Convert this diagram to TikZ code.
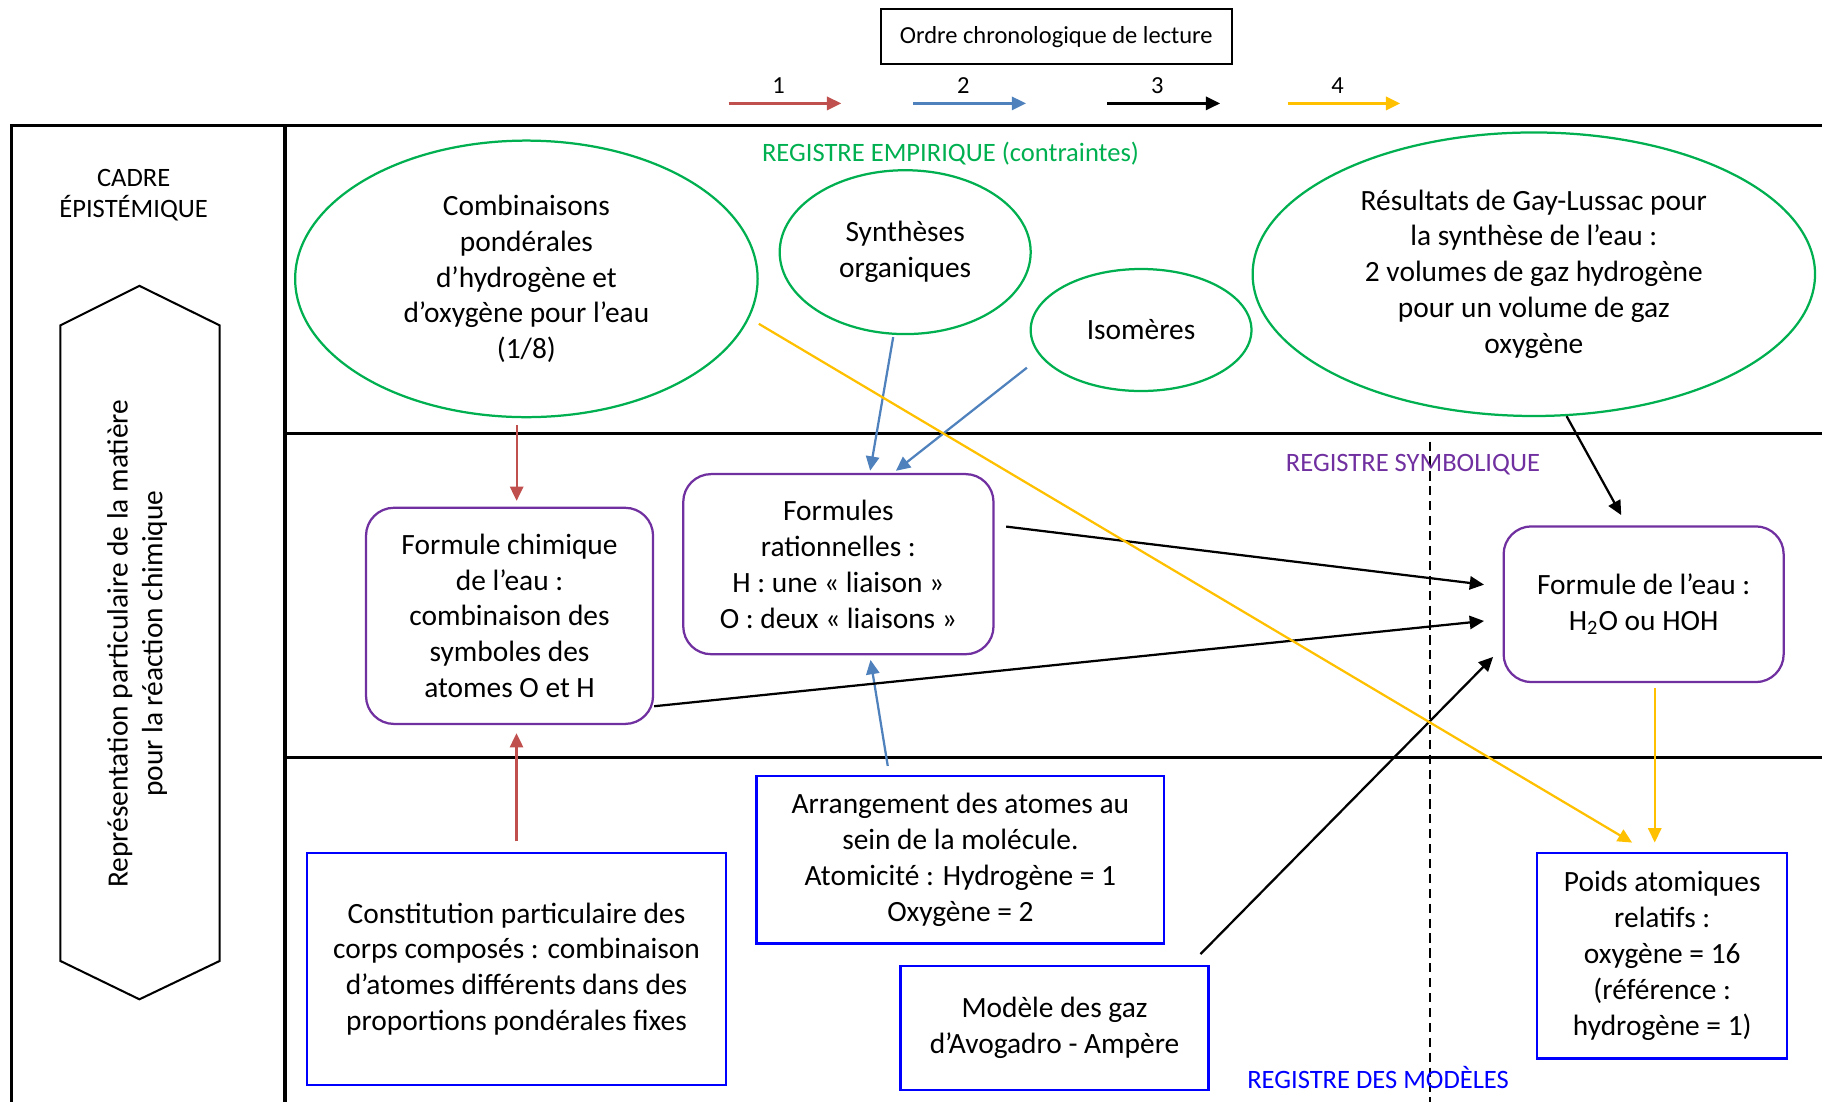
\documentclass[tikz,border=0pt]{standalone}
\usepackage{fontspec}
\setmainfont{Carlito}
\usepackage{xcolor}
\usetikzlibrary{arrows.meta, shapes.geometric, calc}

\definecolor{empgreen}{HTML}{00B050}
\definecolor{sympurple}{HTML}{7030A0}
\definecolor{modblue}{HTML}{0000FF}
\definecolor{arrred}{HTML}{C0504D}
\definecolor{arrblue}{HTML}{4F81BD}
\definecolor{arryellow}{HTML}{FFC000}

\begin{document}
\begin{tikzpicture}[x=0.2mm, y=-0.2mm,
            txt/.style={font=\fontsize{14.4}{17.6}\selectfont, align=center},
            empbox/.style={txt, draw=empgreen, line width=1.1pt, ellipse, inner sep=0pt},
            symbox/.style={txt, draw=sympurple, line width=1.1pt, rectangle, rounded corners=4.8mm, inner sep=0pt},
            modbox/.style={txt, draw=modblue, line width=1.1pt, rectangle, inner sep=0pt},
            reglbl/.style={font=\fontsize{13}{15.5}\selectfont, align=center},
            leglbl/.style={font=\fontsize{12}{14}\selectfont},
            link/.style={-{Triangle[length=7pt, width=6.5pt]}, line width=1.1pt},
            legarrow/.style={-{Triangle[length=7pt, width=6.5pt]}, line width=1.3pt},
            frame/.style={line width=1.6pt}
        ]
        \useasboundingbox (0,0) rectangle (1568,948);

        % --- Legend ---
        \node[draw, line width=0.9pt, minimum width=60.4mm, minimum height=9.4mm, font=\fontsize{12}{14}\selectfont] (order) at (909,31.5) {Ordre chronologique de lecture};
        \foreach \n/\xa/\col in {1/627/arrred, 2/786/arrblue, 3/953/black, 4/1108/arryellow} {
            \coordinate (leg\n a) at (\xa,89);
            \coordinate (leg\n b) at (\xa+97,89);
            \node[leglbl] (num\n) at (\xa+43,74) {\n};
            \draw[legarrow, draw=\col] (leg\n a) -- (leg\n b);
        }

        % --- Frame ---
        \draw[frame] (10,948) -- (10,108) -- (1568,108);
        \draw[line width=1.9pt] (245,108) -- (245,948);
        \draw[line width=1.2pt] (245,373) -- (1568,373);
        \draw[line width=1.2pt] (245,652) -- (1568,652);
        \draw[line width=1pt, dash pattern=on 4.5pt off 2.8pt] (1231,380) -- (1231,948);

        % --- Epistemic frame ---
        \node[reglbl] (cadre) at (115,168) {CADRE\\ÉPISTÉMIQUE};
        \draw[line width=1pt] (120,246) -- (189,280) -- (189,827) -- (120,860) -- (52,827) -- (52,280) -- cycle;
        \node[rotate=90, align=center, font=\fontsize{14.4}{17}\selectfont] (repr) at (118,554) {Représentation particulaire de la matière\\pour la réaction chimique};

        % --- Register labels ---
        \node[reglbl, text=empgreen] (emplbl) at (818,132) {REGISTRE EMPIRIQUE (contraintes)};
        \node[reglbl, text=sympurple] (symlbl) at (1216,400) {REGISTRE SYMBOLIQUE};
        \node[reglbl, text=modblue] (modlbl) at (1186,927) {REGISTRE DES MODÈLES};

        % --- Empirical register ---
        \node[empbox, minimum width=79.6mm, minimum height=47.6mm] (e1) at (453,240) {Combinaisons\\pondérales\\d’hydrogène et\\d’oxygène pour l’eau\\(1/8)};
        \node[empbox, minimum width=43.2mm, minimum height=28.2mm] (e2) at (779,217) {Synthèses\\organiques};
        \node[empbox, minimum width=38mm, minimum height=21mm] (e3) at (982,284) {Isomères};
        \node[empbox, minimum width=96.8mm, minimum height=48.8mm] (e4) at (1320,236) {Résultats de Gay-Lussac pour\\la synthèse de l’eau :\\2 volumes de gaz hydrogène\\pour un volume de gaz\\oxygène};

        % --- Symbolic register ---
        \node[symbox, minimum width=49.4mm, minimum height=37.2mm] (r1) at (438.5,530) {Formule chimique\\de l’eau :\\combinaison des\\symboles des\\atomes O et H};
        \node[symbox, minimum width=53.4mm, minimum height=31mm] (r2) at (721.5,485.5) {Formules\\rationnelles :\\H : une « liaison »\\O : deux « liaisons »};
        \node[symbox, minimum width=48.2mm, minimum height=26.8mm] (r3) at (1414.5,520) {Formule de l’eau :\\H\textsubscript{2}O ou HOH};

        % --- Model register ---
        \node[modbox, minimum width=72.2mm, minimum height=40mm] (b1) at (444.5,834) {Constitution particulaire des\\corps composés : combinaison\\d’atomes différents dans des\\proportions pondérales fixes};
        \node[modbox, minimum width=70.2mm, minimum height=28.8mm] (b2) at (826.5,740) {Arrangement des atomes au\\sein de la molécule.\\Atomicité : Hydrogène = 1\\Oxygène = 2};
        \node[modbox, minimum width=53mm, minimum height=21.4mm] (b3) at (907.5,884.5) {Modèle des gaz\\d’Avogadro - Ampère};
        \node[modbox, minimum width=43mm, minimum height=35.4mm] (b4) at (1430.5,822.5) {Poids atomiques\\relatifs :\\oxygène = 16\\(référence :\\hydrogène = 1)};

        % --- 1 ---
        \draw[link, arrred, shorten <=1.2mm, shorten >=1mm] (e1.266) -- (e1.266 |- r1.north);
        \draw[link, arrred, shorten <=1.8mm, shorten >=1.4mm] (b1.north) -- (b1.north |- r1.south);

        % --- 2 ---
        \draw[link, arrblue, shorten <=0.4mm, shorten >=0.4mm] (e2.262) -- (r2.71);
        \draw[link, arrblue, shorten <=3mm, shorten >=0.6mm] (e3.195) -- (r2.59);
        \draw[link, arrblue, shorten <=1.6mm, shorten >=0.8mm] (b2.130) -- (r2.289);

        % --- 3 ---
        \draw[link, black, shorten >=2mm] (e4.283) -- (r3.102);
        \draw[link, black, shorten <=2mm, shorten >=3.2mm] (r2.14) -- (r3.173);
        \draw[link, black, shorten >=3.2mm] (r1.328) -- (r3.186);
        \draw[link, black, shorten <=2.5mm, shorten >=2.3mm] (b3.25) -- (r3.197);

        % --- 4 ---
        \draw[link, arryellow, shorten <=1.9mm, shorten >=3.1mm] (e1.350) -- (b4.98);
        \draw[link, arryellow, shorten <=0.8mm, shorten >=1.6mm] (r3.278) -- (r3.278 |- b4.north);

    \end{tikzpicture}
\end{document}
